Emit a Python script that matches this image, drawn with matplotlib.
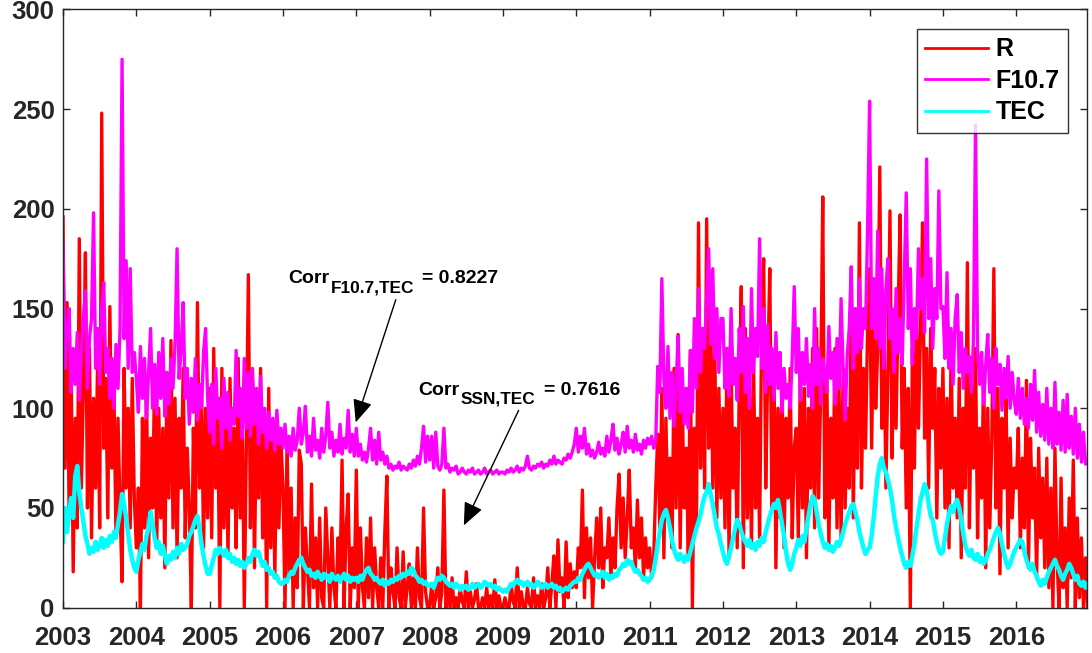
import numpy as np
import matplotlib
matplotlib.use('Agg')
import matplotlib.pyplot as plt
from matplotlib.ticker import MultipleLocator

plt.rcParams['font.family'] = ['Liberation Sans', 'DejaVu Sans']
plt.rcParams['font.weight'] = 'bold'

years = list(range(2003, 2017))

# sunspot number R, 36 samples per year (one row per year)
R = [
    [196, 70, 153, 45, 120, 18, 95, 40, 185, 60, 110, 178, 50, 130, 35, 105, 60, 125, 40, 248, 80, 115, 45, 151, 70, 110, 35, 95, 50, 13, 120, 60, 100, 40, 115, 55],
    [30, 60, 0, 95, 40, 110, 25, 85, 50, 120, 30, 100, 45, 90, 20, 115, 55, 134, 40, 105, 25, 95, 60, 120, 35, 80, 50, 0, 90, 40, 153, 60, 110, 30, 100, 45],
    [110, 35, 130, 60, 95, 0, 120, 40, 105, 25, 115, 50, 90, 30, 125, 45, 100, 0, 80, 167, 40, 115, 20, 100, 55, 120, 35, 95, 0, 110, 30, 85, 15, 95, 40, 84],
    [60, 0, 84, 15, 60, 0, 45, 10, 79, 72, 0, 40, 20, 0, 62, 10, 35, 0, 45, 5, 0, 50, 25, 0, 40, 10, 0, 35, 15, 74, 0, 40, 57, 0, 30, 10],
    [69, 0, 40, 10, 0, 35, 5, 45, 0, 30, 10, 0, 25, 0, 38, 66, 0, 20, 8, 0, 30, 5, 0, 28, 0, 10, 22, 0, 15, 0, 30, 5, 0, 50, 8, 0],
    [0, 12, 0, 5, 20, 0, 8, 59, 0, 10, 0, 15, 0, 5, 0, 10, 3, 0, 18, 0, 8, 0, 4, 12, 0, 0, 5, 0, 10, 0, 6, 0, 14, 0, 6, 0],
    [0, 5, 0, 0, 12, 3, 0, 20, 0, 8, 0, 0, 10, 2, 0, 15, 0, 6, 0, 12, 0, 5, 20, 0, 12, 26, 0, 34, 8, 15, 0, 33, 5, 22, 10, 18],
    [10, 30, 20, 59, 5, 40, 15, 35, 0, 25, 45, 20, 50, 10, 30, 25, 45, 15, 35, 20, 50, 67, 30, 55, 25, 45, 69, 30, 40, 20, 54, 25, 45, 15, 35, 20],
    [30, 15, 25, 60, 87, 40, 110, 25, 95, 45, 75, 30, 120, 50, 137, 30, 105, 50, 80, 25, 129, 0, 90, 40, 193, 70, 140, 60, 195, 80, 150, 60, 130, 45, 110, 55],
    [100, 40, 130, 25, 120, 60, 90, 30, 110, 161, 20, 140, 45, 110, 30, 125, 50, 95, 35, 140, 175, 60, 120, 170, 50, 125, 20, 100, 45, 115, 30, 95, 55, 120, 35, 80],
    [90, 35, 120, 50, 110, 25, 100, 60, 130, 40, 140, 55, 110, 206, 45, 115, 30, 95, 55, 130, 40, 110, 35, 120, 50, 100, 60, 150, 45, 130, 70, 193, 60, 120, 80, 140],
    [170, 80, 150, 100, 130, 221, 90, 140, 60, 120, 199, 75, 130, 90, 150, 197, 80, 120, 50, 110, 0, 130, 70, 150, 90, 140, 193, 85, 130, 60, 140, 90, 120, 45, 110, 70],
    [120, 50, 105, 30, 130, 60, 95, 45, 115, 25, 100, 60, 173, 40, 110, 70, 130, 35, 90, 55, 120, 20, 100, 40, 85, 170, 50, 110, 17, 95, 60, 105, 30, 85, 45, 70],
    [60, 90, 30, 75, 40, 114, 20, 85, 45, 70, 15, 80, 35, 65, 20, 75, 10, 60, 0, 80, 25, 0, 65, 10, 40, 0, 55, 15, 74, 0, 45, 5, 35, 0, 25, 0],
]

# solar radio flux F10.7, 36 samples per year
F107 = [
    [183, 120, 140, 150, 108, 130, 112, 138, 104, 128, 145, 159, 110, 135, 145, 198, 120, 140, 112, 150, 163, 118, 130, 105, 125, 100, 132, 110, 140, 275, 135, 174, 120, 170, 118, 128],
    [115, 98, 131, 105, 125, 95, 118, 140, 100, 122, 97, 128, 105, 135, 96, 118, 102, 125, 110, 132, 180, 115, 130, 153, 105, 120, 92, 115, 98, 125, 94, 112, 100, 128, 140, 105],
    [88, 112, 82, 120, 95, 105, 80, 115, 90, 108, 84, 100, 92, 129, 96, 110, 85, 125, 90, 118, 86, 120, 92, 110, 82, 116, 88, 100, 80, 98, 84, 95, 79, 99, 82, 90],
    [80, 92, 78, 86, 76, 90, 79, 84, 100, 82, 88, 101, 78, 86, 76, 95, 79, 84, 75, 90, 78, 86, 103, 80, 88, 76, 84, 78, 92, 77, 85, 80, 99, 78, 87, 76],
    [90, 76, 82, 74, 78, 73, 80, 90, 74, 84, 72, 88, 74, 78, 72, 76, 70, 72, 69, 71, 70, 73, 69, 71, 70, 69, 72, 70, 74, 71, 76, 72, 80, 91, 73, 86],
    [74, 86, 70, 88, 71, 69, 72, 90, 70, 72, 68, 70, 69, 71, 67, 68, 70, 68, 67, 69, 68, 70, 67, 68, 69, 67, 68, 70, 67, 68, 69, 67, 68, 69, 67, 68],
    [68, 67, 69, 68, 70, 68, 69, 71, 68, 70, 69, 71, 76, 70, 69, 71, 70, 72, 71, 73, 70, 72, 71, 74, 72, 76, 72, 74, 73, 72, 75, 74, 77, 75, 78, 82],
    [90, 78, 86, 80, 90, 77, 82, 76, 79, 75, 78, 83, 77, 80, 76, 86, 78, 84, 92, 79, 85, 77, 82, 88, 78, 91, 80, 84, 78, 87, 79, 82, 77, 84, 80, 85],
    [82, 86, 80, 84, 121, 108, 165, 115, 100, 131, 95, 118, 91, 112, 136, 98, 120, 92, 110, 90, 129, 98, 145, 110, 160, 118, 140, 130, 155, 180, 132, 170, 125, 150, 118, 145],
    [145, 110, 130, 106, 150, 112, 125, 104, 140, 118, 151, 108, 135, 100, 160, 118, 140, 126, 185, 120, 150, 108, 142, 112, 130, 104, 138, 110, 128, 98, 120, 105, 112, 100, 125, 161],
    [118, 140, 104, 128, 112, 135, 106, 122, 100, 150, 112, 130, 102, 125, 118, 108, 141, 115, 128, 102, 135, 110, 155, 120, 94, 126, 140, 171, 120, 150, 128, 165, 130, 150, 140, 190],
    [254, 140, 165, 135, 189, 130, 170, 120, 160, 175, 135, 150, 118, 160, 128, 145, 122, 165, 208, 140, 170, 122, 150, 135, 180, 150, 165, 138, 225, 145, 175, 130, 160, 145, 209, 150],
    [151, 125, 168, 120, 140, 112, 145, 157, 118, 138, 110, 130, 118, 126, 108, 135, 242, 130, 112, 128, 102, 122, 137, 108, 125, 100, 130, 112, 122, 99, 120, 105, 126, 100, 118, 104],
    [97, 115, 95, 110, 92, 105, 90, 112, 94, 119, 88, 108, 86, 102, 84, 110, 82, 100, 80, 113, 82, 98, 79, 104, 78, 107, 80, 96, 77, 100, 75, 92, 73, 88, 72, 74],
]

# total electron content, 36 samples per year
TEC = [
    [33, 50, 38, 47, 55, 45, 66, 71, 58, 50, 43, 36, 32, 27, 30, 28, 33, 29, 31, 35, 30, 34, 31, 36, 33, 38, 35, 42, 48, 57, 52, 45, 37, 29, 24, 20],
    [18, 24, 28, 32, 29, 36, 40, 48, 42, 35, 30, 33, 27, 31, 26, 22, 26, 24, 28, 25, 30, 27, 32, 29, 30, 32, 36, 38, 41, 44, 46, 40, 32, 26, 21, 17],
    [17, 21, 25, 29, 27, 30, 28, 26, 29, 25, 27, 23, 25, 22, 24, 21, 23, 20, 22, 25, 23, 27, 29, 26, 28, 24, 21, 23, 19, 20, 17, 18, 15, 16, 13, 12],
    [12, 14, 13, 16, 18, 17, 20, 22, 24, 25, 22, 20, 18, 19, 16, 17, 15, 18, 16, 14, 17, 15, 16, 13, 17, 15, 14, 16, 13, 15, 17, 14, 16, 13, 15, 14],
    [15, 13, 16, 14, 17, 19, 20, 17, 16, 14, 15, 13, 12, 14, 11, 13, 12, 14, 13, 15, 14, 16, 15, 17, 16, 18, 17, 20, 19, 16, 15, 13, 14, 12, 13, 11],
    [11, 12, 10, 13, 15, 14, 16, 15, 13, 12, 11, 12, 10, 12, 11, 9, 11, 10, 11, 9, 10, 12, 10, 11, 12, 10, 11, 13, 12, 11, 12, 10, 11, 9, 10, 9],
    [8, 9, 8, 10, 12, 11, 13, 14, 12, 13, 11, 12, 13, 11, 12, 10, 11, 13, 12, 10, 11, 12, 10, 11, 12, 10, 11, 9, 10, 8, 9, 10, 9, 11, 12, 13],
    [13, 15, 14, 17, 19, 21, 22, 20, 18, 16, 17, 15, 16, 18, 15, 17, 14, 16, 15, 17, 16, 19, 20, 22, 21, 24, 22, 23, 20, 18, 19, 17, 16, 14, 15, 13],
    [14, 16, 19, 25, 32, 38, 44, 47, 49, 45, 40, 34, 29, 26, 24, 27, 25, 23, 26, 24, 28, 32, 36, 40, 43, 47, 52, 56, 58, 62, 57, 52, 46, 40, 37, 32],
    [28, 24, 22, 26, 30, 35, 40, 44, 42, 38, 35, 33, 31, 34, 30, 32, 29, 33, 31, 35, 33, 38, 42, 46, 49, 52, 50, 54, 48, 42, 36, 28, 22, 19, 22, 27],
    [30, 34, 31, 36, 33, 40, 46, 52, 56, 54, 48, 42, 37, 33, 30, 32, 29, 31, 28, 30, 33, 31, 34, 38, 42, 45, 48, 51, 52, 48, 44, 38, 34, 30, 27, 29],
    [30, 36, 45, 56, 66, 72, 75, 70, 68, 64, 60, 54, 46, 40, 35, 30, 26, 22, 20, 23, 21, 26, 32, 40, 47, 54, 58, 62, 59, 52, 46, 44, 38, 33, 29, 27],
    [28, 35, 42, 47, 51, 48, 52, 54, 50, 44, 37, 31, 28, 26, 29, 25, 24, 27, 23, 25, 22, 24, 27, 29, 32, 35, 38, 40, 37, 32, 27, 23, 20, 22, 25, 28],
    [30, 32, 34, 33, 28, 24, 21, 19, 22, 18, 16, 13, 11, 14, 12, 15, 18, 20, 22, 24, 21, 19, 16, 14, 17, 19, 22, 20, 17, 14, 16, 12, 11, 13, 10, 12],
]

corr_f107 = 0.8227
corr_ssn = 0.7616

r = np.concatenate(R)
f = np.concatenate(F107)
tec = np.concatenate(TEC)
t = years[0] + np.arange(len(r)) / 36.0

fig = plt.figure(figsize=(10.92, 6.53), dpi=100)
ax = fig.add_axes([0.0577, 0.0694, 0.9374, 0.9161])

ax.plot(t, r, color='#ff0000', lw=2.4, label='R')
ax.plot(t, f, color='#ff00ff', lw=2.4, label='F10.7')
ax.plot(t, tec, color='#00ffff', lw=3.2, label='TEC')

ax.set_xlim(2003, 2016.96)
ax.set_ylim(0, 300)
ax.set_xticks(years)
ax.yaxis.set_major_locator(MultipleLocator(50))
ax.tick_params(direction='in', top=True, right=True, length=5, width=1,
               labelsize=18.5, colors='#262626')
ax.tick_params(axis='x', pad=13)
ax.tick_params(axis='y', pad=6)
for sp in ax.spines.values():
    sp.set_color('#262626')
    sp.set_linewidth(1.0)

leg = ax.legend(loc='upper right', bbox_to_anchor=(0.982, 0.968), borderaxespad=0,
                fontsize=18, frameon=True, fancybox=False, handlelength=2.5,
                labelspacing=0.3, handletextpad=0.3, borderpad=0.35)
leg.get_frame().set_edgecolor('k')
leg.get_frame().set_linewidth(1.0)
for h in leg.get_lines():
    h.set_linewidth(2.0)


def corr_label(x, y, sub, val):
    # "Corr" with a bold subscript, then "= value"
    fig.canvas.draw()
    t1 = ax.text(x, y, 'Corr', fontsize=14, fontweight='bold', color='k')
    w1 = t1.get_window_extent(fig.canvas.get_renderer()).width * 72.0 / fig.dpi
    t2 = ax.annotate(sub, xy=(x, y), xytext=(w1 + 1, -6.5), textcoords='offset points',
                     fontsize=12.4, fontweight='bold', color='k')
    w2 = t2.get_window_extent(fig.canvas.get_renderer()).width * 72.0 / fig.dpi
    ax.annotate('= %.4f' % val, xy=(x, y), xytext=(w1 + w2 + 7, 0), textcoords='offset points',
                fontsize=14, fontweight='bold', color='k')


corr_label(2006.07, 162.8, 'F10.7,TEC', corr_f107)
ax.annotate('', xy=(2006.98, 91.6), xytext=(2007.55, 155.8),
            arrowprops=dict(arrowstyle='-|>,head_length=0.7,head_width=0.3',
                            color='k', lw=1.0, mutation_scale=20))

corr_label(2007.84, 106.7, 'SSN,TEC', corr_ssn)
ax.annotate('', xy=(2008.45, 40.0), xytext=(2009.23, 100.2),
            arrowprops=dict(arrowstyle='-|>,head_length=0.7,head_width=0.3',
                            color='k', lw=1.0, mutation_scale=20))

fig.savefig('out.png', dpi=100)
